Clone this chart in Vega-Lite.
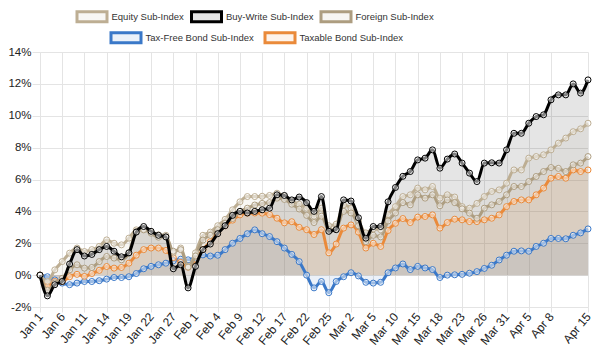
{
  "$schema": "https://vega.github.io/schema/vega-lite/v6.json",
  "width": 548,
  "height": 255,
  "autosize": {"type": "none"},
  "padding": {"left": 40, "top": 52, "right": 12, "bottom": 49},
  "background": "white",
  "config": {
    "view": {"stroke": null},
    "font": "Liberation Sans",
    "axis": {"gridColor": "#e4e4e4", "tickColor": "#e4e4e4", "domainColor": "#e4e4e4", "labelFont": "Liberation Sans", "labelColor": "#222", "title": null}
  },
  "data": {"values": [
    {"d":"Jan 1","Equity Sub-Index":0,"Buy-Write Sub-Index":0,"Foreign Sub-Index":0,"Tax-Free Bond Sub-Index":0,"Taxable Bond Sub-Index":0},
    {"d":"Jan 4","Equity Sub-Index":-0.4,"Buy-Write Sub-Index":-1.3,"Foreign Sub-Index":-0.95,"Tax-Free Bond Sub-Index":-0.1,"Taxable Bond Sub-Index":-0.7},
    {"d":"Jan 5","Equity Sub-Index":0.33,"Buy-Write Sub-Index":-0.6,"Foreign Sub-Index":-0.5,"Tax-Free Bond Sub-Index":-0.3,"Taxable Bond Sub-Index":-0.4},
    {"d":"Jan 6","Equity Sub-Index":0.85,"Buy-Write Sub-Index":-0.4,"Foreign Sub-Index":-0.2,"Tax-Free Bond Sub-Index":-0.5,"Taxable Bond Sub-Index":-0.4},
    {"d":"Jan 7","Equity Sub-Index":1.38,"Buy-Write Sub-Index":0.7,"Foreign Sub-Index":0.33,"Tax-Free Bond Sub-Index":-0.6,"Taxable Bond Sub-Index":-0.1},
    {"d":"Jan 8","Equity Sub-Index":1.7,"Buy-Write Sub-Index":1.6,"Foreign Sub-Index":0.65,"Tax-Free Bond Sub-Index":-0.5,"Taxable Bond Sub-Index":0.05},
    {"d":"Jan 11","Equity Sub-Index":1.48,"Buy-Write Sub-Index":1.2,"Foreign Sub-Index":0.44,"Tax-Free Bond Sub-Index":-0.4,"Taxable Bond Sub-Index":-0.08},
    {"d":"Jan 12","Equity Sub-Index":1.6,"Buy-Write Sub-Index":1.3,"Foreign Sub-Index":0.48,"Tax-Free Bond Sub-Index":-0.4,"Taxable Bond Sub-Index":0.1},
    {"d":"Jan 13","Equity Sub-Index":1.8,"Buy-Write Sub-Index":1.6,"Foreign Sub-Index":0.85,"Tax-Free Bond Sub-Index":-0.35,"Taxable Bond Sub-Index":0.3},
    {"d":"Jan 14","Equity Sub-Index":2.21,"Buy-Write Sub-Index":1.8,"Foreign Sub-Index":1.17,"Tax-Free Bond Sub-Index":-0.25,"Taxable Bond Sub-Index":0.54},
    {"d":"Jan 15","Equity Sub-Index":2.0,"Buy-Write Sub-Index":1.5,"Foreign Sub-Index":1.07,"Tax-Free Bond Sub-Index":-0.15,"Taxable Bond Sub-Index":0.44},
    {"d":"Jan 18","Equity Sub-Index":1.9,"Buy-Write Sub-Index":1.15,"Foreign Sub-Index":0.96,"Tax-Free Bond Sub-Index":-0.15,"Taxable Bond Sub-Index":0.48},
    {"d":"Jan 19","Equity Sub-Index":2.32,"Buy-Write Sub-Index":1.4,"Foreign Sub-Index":1.38,"Tax-Free Bond Sub-Index":-0.1,"Taxable Bond Sub-Index":0.75},
    {"d":"Jan 20","Equity Sub-Index":2.84,"Buy-Write Sub-Index":2.7,"Foreign Sub-Index":2.73,"Tax-Free Bond Sub-Index":0.1,"Taxable Bond Sub-Index":1.25},
    {"d":"Jan 21","Equity Sub-Index":2.9,"Buy-Write Sub-Index":3.05,"Foreign Sub-Index":2.84,"Tax-Free Bond Sub-Index":0.4,"Taxable Bond Sub-Index":1.6},
    {"d":"Jan 22","Equity Sub-Index":2.73,"Buy-Write Sub-Index":2.75,"Foreign Sub-Index":2.63,"Tax-Free Bond Sub-Index":0.55,"Taxable Bond Sub-Index":1.7},
    {"d":"Jan 25","Equity Sub-Index":2.53,"Buy-Write Sub-Index":2.5,"Foreign Sub-Index":2.38,"Tax-Free Bond Sub-Index":0.65,"Taxable Bond Sub-Index":1.7},
    {"d":"Jan 26","Equity Sub-Index":2.5,"Buy-Write Sub-Index":2.4,"Foreign Sub-Index":2.4,"Tax-Free Bond Sub-Index":0.75,"Taxable Bond Sub-Index":1.55},
    {"d":"Jan 27","Equity Sub-Index":1.4,"Buy-Write Sub-Index":0.4,"Foreign Sub-Index":1.5,"Tax-Free Bond Sub-Index":0.9,"Taxable Bond Sub-Index":1.1},
    {"d":"Jan 28","Equity Sub-Index":1.7,"Buy-Write Sub-Index":0.65,"Foreign Sub-Index":1.6,"Tax-Free Bond Sub-Index":1.0,"Taxable Bond Sub-Index":0.8},
    {"d":"Jan 29","Equity Sub-Index":0.55,"Buy-Write Sub-Index":-0.8,"Foreign Sub-Index":0.5,"Tax-Free Bond Sub-Index":0.96,"Taxable Bond Sub-Index":0.5},
    {"d":"Feb 1","Equity Sub-Index":1.4,"Buy-Write Sub-Index":0.55,"Foreign Sub-Index":1.2,"Tax-Free Bond Sub-Index":1.1,"Taxable Bond Sub-Index":1.0},
    {"d":"Feb 2","Equity Sub-Index":2.5,"Buy-Write Sub-Index":1.6,"Foreign Sub-Index":2.2,"Tax-Free Bond Sub-Index":1.27,"Taxable Bond Sub-Index":1.6},
    {"d":"Feb 3","Equity Sub-Index":2.7,"Buy-Write Sub-Index":1.95,"Foreign Sub-Index":2.5,"Tax-Free Bond Sub-Index":1.2,"Taxable Bond Sub-Index":2.1},
    {"d":"Feb 4","Equity Sub-Index":3.1,"Buy-Write Sub-Index":2.6,"Foreign Sub-Index":2.85,"Tax-Free Bond Sub-Index":1.25,"Taxable Bond Sub-Index":2.7},
    {"d":"Feb 5","Equity Sub-Index":3.5,"Buy-Write Sub-Index":3.1,"Foreign Sub-Index":3.26,"Tax-Free Bond Sub-Index":1.6,"Taxable Bond Sub-Index":3.1},
    {"d":"Feb 8","Equity Sub-Index":4.1,"Buy-Write Sub-Index":3.75,"Foreign Sub-Index":3.55,"Tax-Free Bond Sub-Index":2.0,"Taxable Bond Sub-Index":3.45},
    {"d":"Feb 9","Equity Sub-Index":4.6,"Buy-Write Sub-Index":4.0,"Foreign Sub-Index":4.0,"Tax-Free Bond Sub-Index":2.3,"Taxable Bond Sub-Index":3.78},
    {"d":"Feb 10","Equity Sub-Index":4.93,"Buy-Write Sub-Index":3.9,"Foreign Sub-Index":4.2,"Tax-Free Bond Sub-Index":2.6,"Taxable Bond Sub-Index":3.89},
    {"d":"Feb 11","Equity Sub-Index":4.93,"Buy-Write Sub-Index":4.0,"Foreign Sub-Index":4.4,"Tax-Free Bond Sub-Index":2.84,"Taxable Bond Sub-Index":3.9},
    {"d":"Feb 12","Equity Sub-Index":4.95,"Buy-Write Sub-Index":4.1,"Foreign Sub-Index":4.5,"Tax-Free Bond Sub-Index":2.6,"Taxable Bond Sub-Index":3.89},
    {"d":"Feb 15","Equity Sub-Index":5.0,"Buy-Write Sub-Index":4.2,"Foreign Sub-Index":4.55,"Tax-Free Bond Sub-Index":2.42,"Taxable Bond Sub-Index":3.8},
    {"d":"Feb 16","Equity Sub-Index":5.14,"Buy-Write Sub-Index":5.04,"Foreign Sub-Index":4.83,"Tax-Free Bond Sub-Index":2.1,"Taxable Bond Sub-Index":3.57},
    {"d":"Feb 17","Equity Sub-Index":4.95,"Buy-Write Sub-Index":5.0,"Foreign Sub-Index":4.75,"Tax-Free Bond Sub-Index":1.7,"Taxable Bond Sub-Index":3.28},
    {"d":"Feb 18","Equity Sub-Index":4.65,"Buy-Write Sub-Index":4.72,"Foreign Sub-Index":4.45,"Tax-Free Bond Sub-Index":1.3,"Taxable Bond Sub-Index":3.35},
    {"d":"Feb 19","Equity Sub-Index":4.45,"Buy-Write Sub-Index":4.9,"Foreign Sub-Index":4.15,"Tax-Free Bond Sub-Index":0.85,"Taxable Bond Sub-Index":3.0},
    {"d":"Feb 22","Equity Sub-Index":4.2,"Buy-Write Sub-Index":4.55,"Foreign Sub-Index":3.75,"Tax-Free Bond Sub-Index":0.0,"Taxable Bond Sub-Index":2.85},
    {"d":"Feb 23","Equity Sub-Index":3.7,"Buy-Write Sub-Index":4.0,"Foreign Sub-Index":3.3,"Tax-Free Bond Sub-Index":-0.8,"Taxable Bond Sub-Index":2.55},
    {"d":"Feb 24","Equity Sub-Index":4.2,"Buy-Write Sub-Index":4.93,"Foreign Sub-Index":3.7,"Tax-Free Bond Sub-Index":-0.4,"Taxable Bond Sub-Index":2.85},
    {"d":"Feb 25","Equity Sub-Index":3.1,"Buy-Write Sub-Index":2.75,"Foreign Sub-Index":2.85,"Tax-Free Bond Sub-Index":-1.1,"Taxable Bond Sub-Index":1.4},
    {"d":"Feb 26","Equity Sub-Index":3.2,"Buy-Write Sub-Index":2.85,"Foreign Sub-Index":2.9,"Tax-Free Bond Sub-Index":-0.4,"Taxable Bond Sub-Index":1.95},
    {"d":"Mar 1","Equity Sub-Index":4.4,"Buy-Write Sub-Index":4.72,"Foreign Sub-Index":4.0,"Tax-Free Bond Sub-Index":-0.1,"Taxable Bond Sub-Index":2.95},
    {"d":"Mar 2","Equity Sub-Index":4.2,"Buy-Write Sub-Index":4.65,"Foreign Sub-Index":3.9,"Tax-Free Bond Sub-Index":0.15,"Taxable Bond Sub-Index":3.15},
    {"d":"Mar 3","Equity Sub-Index":3.4,"Buy-Write Sub-Index":3.6,"Foreign Sub-Index":3.1,"Tax-Free Bond Sub-Index":-0.05,"Taxable Bond Sub-Index":2.7},
    {"d":"Mar 4","Equity Sub-Index":2.65,"Buy-Write Sub-Index":2.32,"Foreign Sub-Index":2.1,"Tax-Free Bond Sub-Index":-0.45,"Taxable Bond Sub-Index":1.7},
    {"d":"Mar 5","Equity Sub-Index":2.9,"Buy-Write Sub-Index":3.05,"Foreign Sub-Index":2.5,"Tax-Free Bond Sub-Index":-0.5,"Taxable Bond Sub-Index":2.0},
    {"d":"Mar 8","Equity Sub-Index":2.85,"Buy-Write Sub-Index":3.05,"Foreign Sub-Index":2.4,"Tax-Free Bond Sub-Index":-0.45,"Taxable Bond Sub-Index":1.8},
    {"d":"Mar 9","Equity Sub-Index":3.8,"Buy-Write Sub-Index":4.6,"Foreign Sub-Index":3.4,"Tax-Free Bond Sub-Index":0.15,"Taxable Bond Sub-Index":2.8},
    {"d":"Mar 10","Equity Sub-Index":4.3,"Buy-Write Sub-Index":5.5,"Foreign Sub-Index":3.9,"Tax-Free Bond Sub-Index":0.45,"Taxable Bond Sub-Index":3.25},
    {"d":"Mar 11","Equity Sub-Index":4.93,"Buy-Write Sub-Index":6.2,"Foreign Sub-Index":4.55,"Tax-Free Bond Sub-Index":0.7,"Taxable Bond Sub-Index":3.55},
    {"d":"Mar 12","Equity Sub-Index":5.04,"Buy-Write Sub-Index":6.5,"Foreign Sub-Index":4.41,"Tax-Free Bond Sub-Index":0.35,"Taxable Bond Sub-Index":3.3},
    {"d":"Mar 15","Equity Sub-Index":5.46,"Buy-Write Sub-Index":7.23,"Foreign Sub-Index":5.04,"Tax-Free Bond Sub-Index":0.55,"Taxable Bond Sub-Index":3.64},
    {"d":"Mar 16","Equity Sub-Index":5.35,"Buy-Write Sub-Index":7.34,"Foreign Sub-Index":4.83,"Tax-Free Bond Sub-Index":0.45,"Taxable Bond Sub-Index":3.68},
    {"d":"Mar 17","Equity Sub-Index":5.56,"Buy-Write Sub-Index":7.86,"Foreign Sub-Index":5.04,"Tax-Free Bond Sub-Index":0.35,"Taxable Bond Sub-Index":3.78},
    {"d":"Mar 18","Equity Sub-Index":4.83,"Buy-Write Sub-Index":6.71,"Foreign Sub-Index":4.35,"Tax-Free Bond Sub-Index":-0.15,"Taxable Bond Sub-Index":2.95},
    {"d":"Mar 19","Equity Sub-Index":5.04,"Buy-Write Sub-Index":7.28,"Foreign Sub-Index":4.72,"Tax-Free Bond Sub-Index":0.0,"Taxable Bond Sub-Index":3.3},
    {"d":"Mar 22","Equity Sub-Index":4.9,"Buy-Write Sub-Index":7.6,"Foreign Sub-Index":4.55,"Tax-Free Bond Sub-Index":0.02,"Taxable Bond Sub-Index":3.51},
    {"d":"Mar 23","Equity Sub-Index":4.3,"Buy-Write Sub-Index":7.03,"Foreign Sub-Index":4.16,"Tax-Free Bond Sub-Index":0.05,"Taxable Bond Sub-Index":3.47},
    {"d":"Mar 24","Equity Sub-Index":4.2,"Buy-Write Sub-Index":6.4,"Foreign Sub-Index":3.89,"Tax-Free Bond Sub-Index":0.12,"Taxable Bond Sub-Index":3.36},
    {"d":"Mar 25","Equity Sub-Index":4.5,"Buy-Write Sub-Index":5.87,"Foreign Sub-Index":3.57,"Tax-Free Bond Sub-Index":0.22,"Taxable Bond Sub-Index":3.36},
    {"d":"Mar 26","Equity Sub-Index":4.93,"Buy-Write Sub-Index":7.03,"Foreign Sub-Index":4.2,"Tax-Free Bond Sub-Index":0.42,"Taxable Bond Sub-Index":3.47},
    {"d":"Mar 29","Equity Sub-Index":5.25,"Buy-Write Sub-Index":7.05,"Foreign Sub-Index":4.41,"Tax-Free Bond Sub-Index":0.62,"Taxable Bond Sub-Index":3.57},
    {"d":"Mar 30","Equity Sub-Index":5.35,"Buy-Write Sub-Index":7.03,"Foreign Sub-Index":4.62,"Tax-Free Bond Sub-Index":0.95,"Taxable Bond Sub-Index":3.78},
    {"d":"Mar 31","Equity Sub-Index":5.77,"Buy-Write Sub-Index":7.86,"Foreign Sub-Index":5.04,"Tax-Free Bond Sub-Index":1.25,"Taxable Bond Sub-Index":4.3},
    {"d":"Apr 1","Equity Sub-Index":6.6,"Buy-Write Sub-Index":8.9,"Foreign Sub-Index":5.56,"Tax-Free Bond Sub-Index":1.5,"Taxable Bond Sub-Index":4.62},
    {"d":"Apr 2","Equity Sub-Index":6.6,"Buy-Write Sub-Index":8.9,"Foreign Sub-Index":5.56,"Tax-Free Bond Sub-Index":1.52,"Taxable Bond Sub-Index":4.72},
    {"d":"Apr 5","Equity Sub-Index":7.34,"Buy-Write Sub-Index":9.53,"Foreign Sub-Index":5.87,"Tax-Free Bond Sub-Index":1.5,"Taxable Bond Sub-Index":4.72},
    {"d":"Apr 6","Equity Sub-Index":7.44,"Buy-Write Sub-Index":9.95,"Foreign Sub-Index":6.19,"Tax-Free Bond Sub-Index":1.8,"Taxable Bond Sub-Index":5.04},
    {"d":"Apr 7","Equity Sub-Index":7.55,"Buy-Write Sub-Index":10.06,"Foreign Sub-Index":6.5,"Tax-Free Bond Sub-Index":2.0,"Taxable Bond Sub-Index":5.46},
    {"d":"Apr 8","Equity Sub-Index":7.86,"Buy-Write Sub-Index":11.0,"Foreign Sub-Index":6.75,"Tax-Free Bond Sub-Index":2.3,"Taxable Bond Sub-Index":6.08},
    {"d":"Apr 9","Equity Sub-Index":8.28,"Buy-Write Sub-Index":11.31,"Foreign Sub-Index":6.7,"Tax-Free Bond Sub-Index":2.3,"Taxable Bond Sub-Index":6.19},
    {"d":"Apr 12","Equity Sub-Index":8.6,"Buy-Write Sub-Index":11.31,"Foreign Sub-Index":6.5,"Tax-Free Bond Sub-Index":2.28,"Taxable Bond Sub-Index":6.08},
    {"d":"Apr 13","Equity Sub-Index":9.0,"Buy-Write Sub-Index":12.0,"Foreign Sub-Index":6.92,"Tax-Free Bond Sub-Index":2.5,"Taxable Bond Sub-Index":6.6},
    {"d":"Apr 14","Equity Sub-Index":9.18,"Buy-Write Sub-Index":11.42,"Foreign Sub-Index":7.03,"Tax-Free Bond Sub-Index":2.65,"Taxable Bond Sub-Index":6.5},
    {"d":"Apr 15","Equity Sub-Index":9.53,"Buy-Write Sub-Index":12.25,"Foreign Sub-Index":7.44,"Tax-Free Bond Sub-Index":2.9,"Taxable Bond Sub-Index":6.6}
  ]},
  "transform": [
    {"fold": ["Equity Sub-Index","Buy-Write Sub-Index","Foreign Sub-Index","Tax-Free Bond Sub-Index","Taxable Bond Sub-Index"], "as": ["series","v"]}
  ],
  "encoding": {
    "x": {
      "field": "d", "type": "ordinal", "sort": null,
      "scale": {"type": "point", "padding": 0, "domain": ["Jan 1","Jan 4","Jan 5","Jan 6","Jan 7","Jan 8","Jan 11","Jan 12","Jan 13","Jan 14","Jan 15","Jan 18","Jan 19","Jan 20","Jan 21","Jan 22","Jan 25","Jan 26","Jan 27","Jan 28","Jan 29","Feb 1","Feb 2","Feb 3","Feb 4","Feb 5","Feb 8","Feb 9","Feb 10","Feb 11","Feb 12","Feb 15","Feb 16","Feb 17","Feb 18","Feb 19","Feb 22","Feb 23","Feb 24","Feb 25","Feb 26","Mar 1","Mar 2","Mar 3","Mar 4","Mar 5","Mar 8","Mar 9","Mar 10","Mar 11","Mar 12","Mar 15","Mar 16","Mar 17","Mar 18","Mar 19","Mar 22","Mar 23","Mar 24","Mar 25","Mar 26","Mar 29","Mar 30","Mar 31","Apr 1","Apr 2","Apr 5","Apr 6","Apr 7","Apr 8","Apr 9","Apr 12","Apr 13","Apr 14","Apr 15"]},
      "axis": {"values": ["Jan 1","Jan 6","Jan 11","Jan 14","Jan 19","Jan 22","Jan 27","Feb 1","Feb 4","Feb 9","Feb 12","Feb 17","Feb 22","Feb 25","Mar 2","Mar 5","Mar 10","Mar 15","Mar 18","Mar 23","Mar 26","Mar 31","Apr 5","Apr 8","Apr 15"], "labelAngle": -50, "labelAlign": "right", "labelBaseline": "middle", "labelFontSize": 12, "tickSize": 5, "labelPadding": 2, "grid": true}
    },
    "y": {
      "field": "v", "type": "quantitative", "stack": null,
      "scale": {"domain": [-2, 14], "nice": false},
      "axis": {"values": [-2,0,2,4,6,8,10,12,14], "labelExpr": "datum.value + '%'", "labelFontSize": 11.5, "tickSize": 8, "labelPadding": 1, "grid": true}
    }
  },
  "layer": [
    {
      "mark": {"type": "area", "interpolate": "monotone", "fillOpacity": 0.1},
      "encoding": {"fill": {"field": "series", "type": "nominal", "legend": null, "scale": {"domain": ["Equity Sub-Index","Buy-Write Sub-Index","Foreign Sub-Index","Tax-Free Bond Sub-Index","Taxable Bond Sub-Index"], "range": ["#bdae93","#000000","#ad9d80","#3a78c8","#ea8a3a"]}}}
    },
    {
      "transform": [{"filter": {"field": "series", "oneOf": ["Tax-Free Bond Sub-Index","Taxable Bond Sub-Index"]}}],
      "mark": {"type": "line", "interpolate": "monotone", "strokeWidth": 3},
      "encoding": {"color": {"field": "series", "type": "nominal", "scale": {"domain": ["Tax-Free Bond Sub-Index","Taxable Bond Sub-Index"], "range": ["#3a78c8","#ea8a3a"]},
        "legend": {"orient": "none", "legendX": 68, "legendY": -26, "direction": "horizontal", "columns": 2, "title": null, "symbolType": "M-1.5,-0.5H1.5V0.5H-1.5Z", "symbolSize": 400, "symbolStrokeWidth": 3, "symbolOffset": 6.5, "labelOffset": 8, "columnPadding": 5, "labelFontSize": 9.5, "labelColor": "#333", "labelFont": "Liberation Sans",
          "encode": {"symbols": {"update": {"fill": {"scale": "color", "field": "value"}, "fillOpacity": {"value": 0.1}, "strokeWidth": {"value": 3}}}}}}}
    },
    {
      "transform": [{"filter": {"field": "series", "oneOf": ["Tax-Free Bond Sub-Index","Taxable Bond Sub-Index"]}}],
      "mark": {"type": "point", "filled": false, "fill": "white", "fillOpacity": 0.5, "size": 36, "strokeWidth": 1, "opacity": 1},
      "encoding": {"color": {"field": "series", "type": "nominal"}}
    },
    {
      "transform": [{"filter": {"field": "series", "oneOf": ["Equity Sub-Index","Foreign Sub-Index"]}}],
      "mark": {"type": "line", "interpolate": "monotone", "strokeWidth": 3},
      "encoding": {"stroke": {"field": "series", "type": "nominal", "scale": {"domain": ["Equity Sub-Index","Buy-Write Sub-Index","Foreign Sub-Index"], "range": ["#bdae93","#000000","#ad9d80"]},
        "legend": {"orient": "none", "legendX": 34, "legendY": -47, "direction": "horizontal", "columns": 3, "title": null, "symbolType": "M-1.5,-0.5H1.5V0.5H-1.5Z", "symbolSize": 400, "symbolStrokeWidth": 3, "symbolOffset": 6.5, "labelOffset": 8, "columnPadding": 1.5, "labelFontSize": 9.5, "labelColor": "#333", "labelFont": "Liberation Sans",
          "encode": {"symbols": {"update": {"fill": {"scale": "stroke", "field": "value"}, "fillOpacity": {"value": 0.1}, "strokeWidth": {"value": 3}}}}}}}
    },
    {
      "transform": [{"filter": {"field": "series", "oneOf": ["Equity Sub-Index","Foreign Sub-Index"]}}],
      "mark": {"type": "point", "filled": false, "fill": "white", "fillOpacity": 0.5, "size": 36, "strokeWidth": 1, "opacity": 1},
      "encoding": {"stroke": {"field": "series", "type": "nominal"}}
    },
    {
      "transform": [{"filter": {"field": "series", "equal": "Buy-Write Sub-Index"}}],
      "mark": {"type": "line", "interpolate": "monotone", "strokeWidth": 3},
      "encoding": {"stroke": {"field": "series", "type": "nominal"}}
    },
    {
      "transform": [{"filter": {"field": "series", "equal": "Buy-Write Sub-Index"}}],
      "mark": {"type": "point", "filled": false, "fill": "white", "fillOpacity": 0.5, "size": 36, "strokeWidth": 1, "opacity": 1},
      "encoding": {"stroke": {"field": "series", "type": "nominal"}}
    }
  ]
}
